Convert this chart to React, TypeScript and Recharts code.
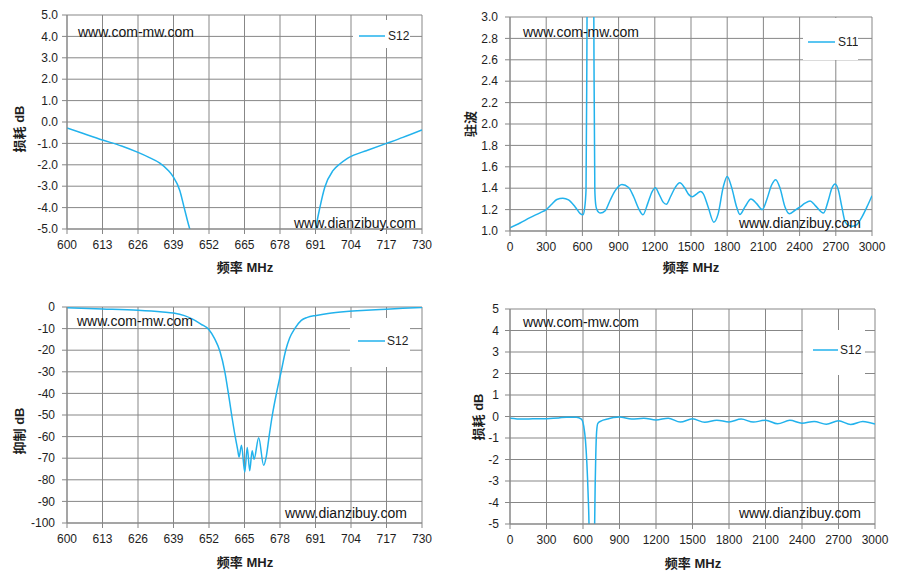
import { LineChart, Line, XAxis, YAxis, CartesianGrid, Legend } from 'recharts'

// ─── Axes ──────────────────────────────────────────────────────────────────────

const narrowTicks = [600, 613, 626, 639, 652, 665, 678, 691, 704, 717, 730]
const wideTicks = [0, 300, 600, 900, 1200, 1500, 1800, 2100, 2400, 2700, 3000]
const lossTicks = [-5, -4, -3, -2, -1, 0, 1, 2, 3, 4, 5]
const vswrTicks = [1, 1.2, 1.4, 1.6, 1.8, 2, 2.2, 2.4, 2.6, 2.8, 3]
const rejectTicks = [-100, -90, -80, -70, -60, -50, -40, -30, -20, -10, 0]

// ─── Data ──────────────────────────────────────────────────────────────────────

// S12 passband edges, 600-730 MHz (null = out of the -5 dB window)
const passFreq = [
  600, 606, 613, 620, 626, 630, 634, 637, 638.8, 641.3, 642.9, 644.1, 645.5, 646.5,
  668, 690.5, 691.5, 692.6, 694.4, 697.4, 700, 702.3, 705, 709.6, 717, 723, 730,
]
const passDb = [
  -0.28, -0.54, -0.84, -1.12, -1.42, -1.65, -1.92, -2.25, -2.54, -3.2, -4.0, -4.6, -5.3, -6.0,
  null, -5.6, -4.7, -4.0, -3.05, -2.27, -1.95, -1.73, -1.55, -1.34, -1.0, -0.72, -0.37,
]

// S11 VSWR, 0-3000 MHz
const vswrFreq = [
  0, 83, 166, 249, 300, 346, 388, 438, 485, 540, 582, 604, 618, 630, 636, 639, 645, 688, 694,
  697, 703, 710, 720, 734, 750, 789, 831, 873, 928, 983, 1025, 1066, 1102, 1141, 1177, 1205,
  1233, 1269, 1296, 1330, 1371, 1407, 1446, 1482, 1510, 1551, 1580, 1601, 1642, 1689, 1725,
  1767, 1800, 1836, 1878, 1905, 1947, 1997, 2044, 2090, 2127, 2168, 2202, 2238, 2279, 2315,
  2362, 2404, 2445, 2487, 2528, 2598, 2639, 2667, 2695, 2722, 2750, 2778, 2806, 2840, 2875,
  2916, 2958, 3000,
]
const vswrValue = [
  1.03, 1.075, 1.125, 1.17, 1.2, 1.25, 1.294, 1.306, 1.29, 1.225, 1.163, 1.152, 1.21, 1.38,
  2.4, 3.2, 10, 10, 3.2, 2.4, 1.38, 1.25, 1.2, 1.175, 1.168, 1.19, 1.29, 1.38, 1.435, 1.406,
  1.32, 1.21, 1.152, 1.256, 1.366, 1.405, 1.35, 1.27, 1.25, 1.32, 1.41, 1.45, 1.406, 1.34,
  1.32, 1.35, 1.37, 1.35, 1.225, 1.082, 1.16, 1.41, 1.51, 1.41, 1.225, 1.155, 1.225, 1.3,
  1.256, 1.2, 1.29, 1.43, 1.48, 1.4, 1.225, 1.162, 1.194, 1.225, 1.26, 1.28, 1.24, 1.168,
  1.29, 1.4, 1.44, 1.38, 1.225, 1.084, 1.053, 1.045, 1.06, 1.13, 1.225, 1.33,
]

// S12 rejection, 600-730 MHz
const rejectFreq = [
  600, 613, 626, 635, 639, 643, 646, 649, 652, 654, 656, 657.8, 659.1, 660.3, 661.6, 662.5,
  663.0, 663.9, 665.1, 666.0, 666.9, 667.8, 668.5, 670.2, 672.0, 673.0, 674.0, 675.2, 676.7,
  678.4, 680.1, 681.5, 683.4, 685.8, 688, 691.3, 695.6, 702.3, 709.6, 717, 723, 730,
]
const rejectDb = [
  -0.4, -0.9, -1.5, -2.3, -2.8, -4.0, -5.6, -7.9, -10.5, -14.5, -20.5, -30, -40, -50, -60, -66,
  -69.5, -64, -76.5, -65, -75.8, -66.5, -70.5, -60.5, -73.3, -69, -60, -50, -40,
  -30, -20, -14.5, -10, -6.2, -4.8, -3.9, -3.0, -2.1, -1.5, -1.0, -0.6, -0.2,
]

// S12 wideband loss, 0-3000 MHz
const wideFreq = [
  0, 100, 187, 300, 400, 463, 545, 587, 606, 620, 632, 642, 650, 660, 685, 695, 700, 705, 712,
  722, 751, 800, 850, 900, 1000, 1100, 1200, 1300, 1400, 1500, 1600, 1700, 1800, 1900, 2000,
  2100, 2200, 2300, 2400, 2500, 2600, 2700, 2800, 2900, 3000,
]
const wideDb = [
  -0.08, -0.12, -0.11, -0.1, -0.07, -0.03, -0.03, -0.12, -0.45, -1.1, -2.2, -3.6, -5.3, -12,
  -12, -5.3, -3.2, -1.8, -0.7, -0.32, -0.2, -0.12, -0.05, -0.02, -0.12, -0.08, -0.16, -0.08,
  -0.26, -0.11, -0.27, -0.17, -0.25, -0.12, -0.26, -0.17, -0.34, -0.18, -0.31, -0.23, -0.36,
  -0.2, -0.37, -0.23, -0.35,
]

// ─── Styles ────────────────────────────────────────────────────────────────────

const GRID = '#878787'
const LINE = '#22b2ec'
const FONT = '"Liberation Sans", Arial, "Noto Sans CJK SC", sans-serif'
const tickStyle = { fontSize: 12, fill: '#1e1e1e', fontFamily: FONT }

const toPoints = (xs: number[], ys: (number | null)[]) => xs.map((f, i) => ({ f, v: ys[i] }))

interface LegendBox {
  left: number
  top: number
  w: number
  h: number
  lineX: number
  lineW: number
  midY: number
  textX: number
}

interface PanelProps {
  left: number
  top: number
  width: number
  height: number
  margin: { top: number; right: number; left: number; bottom: number }
  yWidth: number
  xHeight: number
  tickGap: number
  data: { f: number; v: number | null }[]
  xDomain: [number, number]
  xTicks: number[]
  yDomain: [number, number]
  yTicks: number[]
  yFormat: (v: number) => string
  name: string
  legend: LegendBox
}

function Panel(p: PanelProps) {
  const box = p.legend
  const renderLegend = (props: any) => {
    const item = props.payload?.[0]
    return (
      <svg width={box.w} height={box.h} style={{ display: 'block' }}>
        <rect x={0} y={0} width={box.w} height={box.h} fill="#fff" />
        <line
          x1={box.lineX}
          x2={box.lineX + box.lineW}
          y1={box.midY}
          y2={box.midY}
          stroke={item?.color ?? LINE}
          strokeWidth={1.5}
        />
        <text x={box.textX} y={box.midY} dy="0.35em" fontSize={12} fontFamily={FONT} fill="#1e1e1e">
          {item?.value}
        </text>
      </svg>
    )
  }

  return (
    <div style={{ position: 'absolute', left: p.left, top: p.top }}>
      <LineChart width={p.width} height={p.height} data={p.data} margin={p.margin}>
        <CartesianGrid stroke={GRID} strokeWidth={1} />
        <XAxis
          dataKey="f"
          type="number"
          domain={p.xDomain}
          ticks={p.xTicks}
          interval={0}
          allowDataOverflow
          height={p.xHeight}
          tick={tickStyle}
          tickSize={5}
          tickMargin={6}
          axisLine={{ stroke: GRID }}
          tickLine={{ stroke: GRID }}
        />
        <YAxis
          type="number"
          domain={p.yDomain}
          ticks={p.yTicks}
          interval={0}
          allowDataOverflow
          width={p.yWidth}
          tick={tickStyle}
          tickFormatter={p.yFormat}
          tickSize={5}
          tickMargin={p.tickGap}
          axisLine={{ stroke: GRID }}
          tickLine={{ stroke: GRID }}
        />
        <Legend
          layout="vertical"
          align="center"
          verticalAlign="middle"
          wrapperStyle={{ left: box.left, top: box.top, width: box.w, height: box.h }}
          content={renderLegend}
        />
        <Line
          type="monotone"
          dataKey="v"
          name={p.name}
          stroke={LINE}
          strokeWidth={1.5}
          dot={false}
          activeDot={false}
          connectNulls={false}
          legendType="plainline"
          isAnimationActive={false}
        />
      </LineChart>
    </div>
  )
}

// ─── Overlay texts ─────────────────────────────────────────────────────────────

const marks = [
  { text: 'www.com-mw.com', x: 78, y: 32 },
  { text: 'www.dianzibuy.com', x: 294, y: 223 },
  { text: 'www.com-mw.com', x: 523, y: 32 },
  { text: 'www.dianzibuy.com', x: 739, y: 223 },
  { text: 'www.com-mw.com', x: 77, y: 321 },
  { text: 'www.dianzibuy.com', x: 285, y: 513 },
  { text: 'www.com-mw.com', x: 523, y: 322 },
  { text: 'www.dianzibuy.com', x: 739, y: 513 },
]

const xTitles = [
  { x: 245, y: 266 },
  { x: 691, y: 266 },
  { x: 245, y: 561 },
  { x: 693, y: 562 },
]

const yTitles = [
  { text: '损耗 dB', x: 18, y: 129 },
  { text: '驻波', x: 469, y: 124 },
  { text: '抑制 dB', x: 18, y: 431 },
  { text: '损耗 dB', x: 477, y: 417 },
]

const fixed1 = (v: number) => v.toFixed(1)
const whole = (v: number) => String(v)

export default function App() {
  return (
    <div style={{ position: 'relative', width: 901, height: 577, background: '#fff', overflow: 'hidden' }}>
      <style>{'body{margin:0}'}</style>

      <Panel
        left={0}
        top={0}
        width={450}
        height={285}
        margin={{ top: 15, right: 28, left: 0, bottom: 0 }}
        yWidth={67}
        xHeight={56}
        tickGap={4}
        data={toPoints(passFreq, passDb)}
        xDomain={[600, 730]}
        xTicks={narrowTicks}
        yDomain={[-5, 5]}
        yTicks={lossTicks}
        yFormat={fixed1}
        name="S12"
        legend={{ left: 353, top: 20, w: 57, h: 28, lineX: 6, lineW: 26, midY: 16, textX: 35 }}
      />
      <Panel
        left={450}
        top={0}
        width={451}
        height={285}
        margin={{ top: 17, right: 29, left: 0, bottom: 0 }}
        yWidth={60}
        xHeight={54}
        tickGap={7}
        data={toPoints(vswrFreq, vswrValue)}
        xDomain={[0, 3000]}
        xTicks={wideTicks}
        yDomain={[1, 3]}
        yTicks={vswrTicks}
        yFormat={fixed1}
        name="S11"
        legend={{ left: 353, top: 18, w: 55, h: 42, lineX: 5, lineW: 27, midY: 24, textX: 35 }}
      />
      <Panel
        left={0}
        top={290}
        width={450}
        height={287}
        margin={{ top: 17, right: 28, left: 0, bottom: 0 }}
        yWidth={67}
        xHeight={54}
        tickGap={7}
        data={toPoints(rejectFreq, rejectDb)}
        xDomain={[600, 730]}
        xTicks={narrowTicks}
        yDomain={[-100, 0]}
        yTicks={rejectTicks}
        yFormat={whole}
        name="S12"
        legend={{ left: 350, top: 28, w: 60, h: 49, lineX: 8, lineW: 27, midY: 23, textX: 37 }}
      />
      <Panel
        left={450}
        top={290}
        width={451}
        height={287}
        margin={{ top: 19, right: 26, left: 0, bottom: 0 }}
        yWidth={60}
        xHeight={53}
        tickGap={6}
        data={toPoints(wideFreq, wideDb)}
        xDomain={[0, 3000]}
        xTicks={wideTicks}
        yDomain={[-5, 5]}
        yTicks={lossTicks}
        yFormat={whole}
        name="S12"
        legend={{ left: 353, top: 40, w: 62, h: 45, lineX: 10, lineW: 25, midY: 20, textX: 37 }}
      />

      {marks.map((m, i) => (
        <div
          key={`m${i}`}
          style={{
            position: 'absolute',
            left: m.x,
            top: m.y - 8,
            lineHeight: '16px',
            fontSize: 14,
            fontFamily: FONT,
            color: '#141414',
            whiteSpace: 'nowrap',
          }}
        >
          {m.text}
        </div>
      ))}
      {xTitles.map((t, i) => (
        <div
          key={`x${i}`}
          style={{
            position: 'absolute',
            left: t.x,
            top: t.y,
            transform: 'translate(-50%, -50%)',
            fontSize: 13,
            fontWeight: 'bold',
            fontFamily: FONT,
            color: '#1e1e1e',
            whiteSpace: 'nowrap',
          }}
        >
          频率 MHz
        </div>
      ))}
      {yTitles.map((t, i) => (
        <div
          key={`y${i}`}
          style={{
            position: 'absolute',
            left: t.x,
            top: t.y,
            transform: 'translate(-50%, -50%) rotate(-90deg)',
            fontSize: 13,
            fontWeight: 'bold',
            fontFamily: FONT,
            color: '#1e1e1e',
            whiteSpace: 'nowrap',
          }}
        >
          {t.text}
        </div>
      ))}
    </div>
  )
}
